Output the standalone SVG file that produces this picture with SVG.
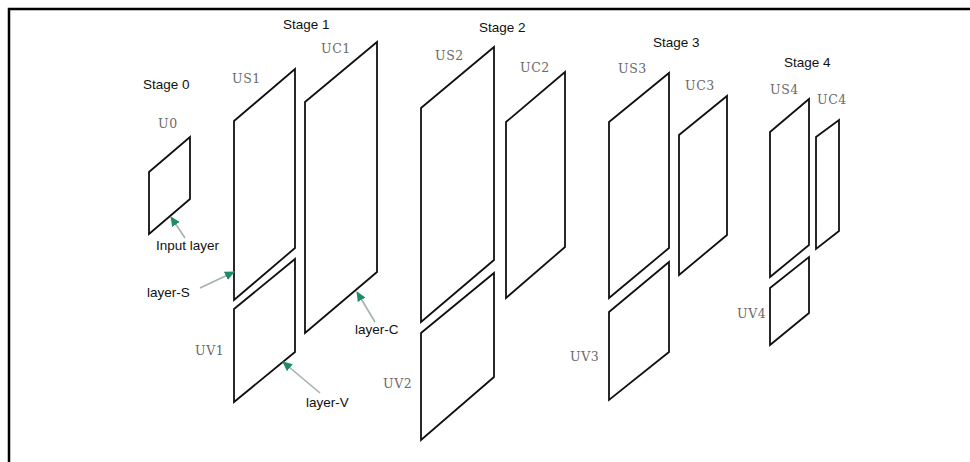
<svg xmlns="http://www.w3.org/2000/svg" width="970" height="462" viewBox="0 0 970 462">
<defs>
<style>
.layer{fill:none;stroke:#111;stroke-width:1.8;stroke-linejoin:miter}
.stage{font-family:"Liberation Sans",Arial,sans-serif;font-size:13.5px;fill:#111}
.lbl{font-family:"DejaVu Serif","Liberation Serif",serif;font-size:12.5px;fill:#6a6a6a;letter-spacing:0.6px}
.note{font-family:"Liberation Sans",Arial,sans-serif;font-size:13.5px;fill:#111}
.arrow{stroke:#a3b3ae;stroke-width:1.6;fill:none;marker-end:url(#ah)}
</style>
<marker id="ah" viewBox="0 0 10 10" refX="9" refY="5" markerWidth="10" markerHeight="10" orient="auto" markerUnits="userSpaceOnUse">
<path d="M0,0.5 L10,5 L0,9.5 z" fill="#1e8c64"/>
</marker>
</defs>
<rect width="970" height="462" fill="#fff"/>
<rect x="9" y="9" width="990" height="480" fill="none" stroke="#000" stroke-width="2.5"/>

<g id="stage-labels">
<text class="stage" x="143" y="89">Stage 0</text>
<text class="stage" x="283" y="29">Stage 1</text>
<text class="stage" x="479" y="32">Stage 2</text>
<text class="stage" x="653" y="47">Stage 3</text>
<text class="stage" x="784" y="67">Stage 4</text>
</g>

<g id="U0"><polygon class="layer" points="149,172 190,137 190,199 149,234"/><text class="lbl" x="158" y="128">U0</text></g>
<g id="US1"><polygon class="layer" points="234,121 295,69 295,248 234,300"/><text class="lbl" x="232" y="83">US1</text></g>
<g id="UV1"><polygon class="layer" points="234,309 295,259 295,352 234,402"/><text class="lbl" x="195" y="355">UV1</text></g>
<g id="UC1"><polygon class="layer" points="305,102 377,42 377,272 305,333"/><text class="lbl" x="321" y="53">UC1</text></g>
<g id="US2"><polygon class="layer" points="421,108 494,47 494,260 421,322"/><text class="lbl" x="435" y="60">US2</text></g>
<g id="UV2"><polygon class="layer" points="421,333 494,273 494,377 421,440"/><text class="lbl" x="383" y="388">UV2</text></g>
<g id="UC2"><polygon class="layer" points="506,122 565,72 565,247 506,298"/><text class="lbl" x="520" y="72">UC2</text></g>
<g id="US3"><polygon class="layer" points="609,122 669,73 669,248 609,298"/><text class="lbl" x="618" y="73">US3</text></g>
<g id="UV3"><polygon class="layer" points="609,312 669,262 669,352 609,400"/><text class="lbl" x="570" y="361">UV3</text></g>
<g id="UC3"><polygon class="layer" points="679,135 727,96 727,235 679,275"/><text class="lbl" x="685" y="90">UC3</text></g>
<g id="US4"><polygon class="layer" points="770,132 809,99 809,245 770,277"/><text class="lbl" x="770" y="94">US4</text></g>
<g id="UV4"><polygon class="layer" points="770,288 809,257 809,313 770,345"/><text class="lbl" x="737" y="318">UV4</text></g>
<g id="UC4"><polygon class="layer" points="816,137 839,120 839,231 816,249"/><text class="lbl" x="817" y="104">UC4</text></g>

<g id="annotations">
<text class="note" x="156" y="250">Input layer</text>
<text class="note" x="147" y="297">layer-S</text>
<text class="note" x="355" y="334">layer-C</text>
<text class="note" x="306" y="407">layer-V</text>
</g>

<g id="connectors">
<line class="arrow" x1="185" y1="238" x2="171" y2="217"/>
<line class="arrow" x1="200" y1="288" x2="234" y2="272"/>
<line class="arrow" x1="375" y1="322" x2="357" y2="292"/>
<line class="arrow" x1="320" y1="393" x2="283" y2="362"/>
</g>
</svg>
